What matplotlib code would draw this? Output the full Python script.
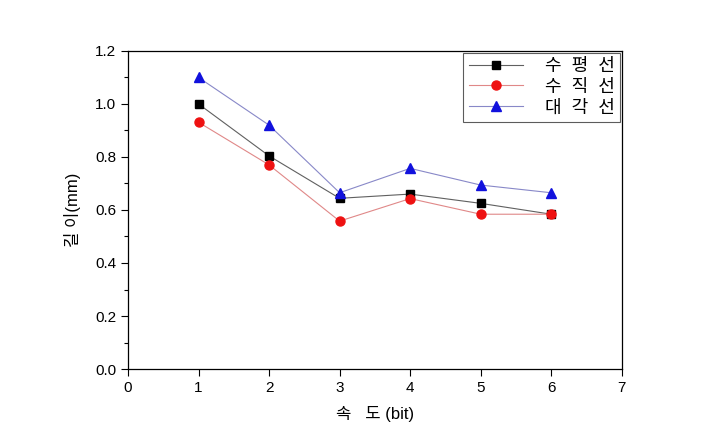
import matplotlib.pyplot as plt
from matplotlib.ticker import MultipleLocator

plt.rcParams['font.family'] = ['Liberation Sans', 'Noto Sans CJK KR', 'DejaVu Sans']

speed = [1, 2, 3, 4, 5, 6]
horizontal = [1.00, 0.804, 0.644, 0.66, 0.625, 0.584]
vertical = [0.931, 0.77, 0.558, 0.643, 0.584, 0.584]
diagonal = [1.10, 0.92, 0.665, 0.757, 0.694, 0.665]
labels = ['수  평  선', '수  직  선', '대  각  선']

fig = plt.figure(figsize=(7.23, 4.43), dpi=100)
ax = fig.add_axes([0.177, 0.167, 0.683, 0.718])

ax.plot(speed, horizontal, color='#606060', lw=0.8, marker='s', ms=5.5,
        mfc='black', mec='black', label=labels[0])
ax.plot(speed, vertical, color='#e08888', lw=0.8, marker='o', ms=6.5,
        mfc='#ee1111', mec='#ee1111', label=labels[1])
ax.plot(speed, diagonal, color='#8888c8', lw=0.8, marker='^', ms=7,
        mfc='#1111dd', mec='#1111dd', label=labels[2])

ax.set_xlim(0, 7)
ax.set_ylim(0, 1.2)
ax.xaxis.set_major_locator(MultipleLocator(1))
ax.yaxis.set_major_locator(MultipleLocator(0.2))
ax.yaxis.set_minor_locator(MultipleLocator(0.1))
ax.yaxis.set_major_formatter(plt.FuncFormatter(lambda v, p: f'{v:.1f}'))
ax.tick_params(direction='out', length=5, width=0.8, labelsize=11, top=False, right=False)
ax.tick_params(which='minor', direction='out', length=3, width=0.8)
for s in ax.spines.values():
    s.set_linewidth(0.9)

ax.set_xlabel('속   도 (bit)', fontsize=12, labelpad=8)
ax.set_ylabel('길 이(mm)', fontsize=12, labelpad=10)

leg = ax.legend(loc='upper right', fontsize=13, frameon=True, fancybox=False,
                borderaxespad=0.1, handlelength=3, labelspacing=0.2,
                borderpad=0.3, handletextpad=1.2)
leg.get_frame().set_edgecolor('#333333')
leg.get_frame().set_linewidth(0.8)

fig.savefig('out.png', dpi=100)
